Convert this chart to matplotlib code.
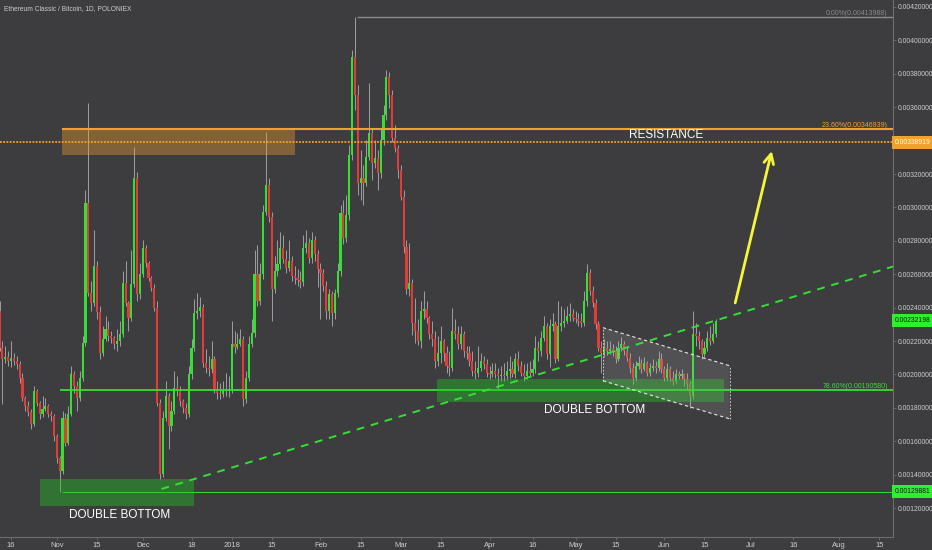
import numpy as np
import pandas as pd
import matplotlib
matplotlib.use('Agg')
import matplotlib.pyplot as plt
import matplotlib.dates as mdates
from matplotlib.patches import Rectangle, Polygon
from matplotlib.transforms import blended_transform_factory

plt.rcParams['font.family'] = ['Liberation Sans', 'DejaVu Sans']

# ETC/BTC daily candles, Poloniex, 2017-10-12 .. 2018-06-19 (prices in 1e-5 BTC)
first_open = 238.2
close_e5 = [
    216.0, 209.4, 210.6, 208.2, 210.0, 208.2, 206.4, 198.0, 186.0, 181.2,
    177.6, 170.4, 190.2, 183.0, 176.4, 179.4, 181.2, 176.4, 175.2, 163.2,
    150.0, 142.2, 174.0, 159.0, 176.4, 200.4, 193.2, 186.0, 198.0, 219.0,
    302.4, 249.0, 243.0, 265.2, 237.6, 213.0, 221.4, 227.4, 223.2, 222.0,
    218.4, 220.2, 224.4, 255.0, 243.0, 234.0, 254.4, 317.4, 248.4, 260.4,
    275.4, 267.0, 258.0, 252.0, 240.0, 183.0, 140.4, 174.0, 187.2, 169.2,
    178.2, 192.0, 190.2, 184.2, 180.0, 176.4, 200.4, 216.0, 237.0, 238.2,
    240.6, 207.0, 204.0, 203.4, 209.4, 191.4, 189.0, 188.4, 191.4, 190.2,
    191.4, 218.4, 216.6, 218.4, 221.4, 185.4, 198.0, 218.4, 225.0, 260.4,
    244.2, 260.4, 297.0, 313.2, 294.0, 251.4, 262.2, 266.4, 275.4, 269.4,
    264.0, 268.2, 259.2, 258.0, 256.8, 255.6, 275.4, 278.4, 270.0, 280.2,
    272.4, 263.4, 261.0, 253.2, 238.2, 248.4, 237.0, 249.0, 262.2, 296.4,
    281.4, 295.2, 331.2, 390.0, 367.2, 314.4, 317.4, 314.4, 330.0, 344.4,
    326.4, 329.4, 320.4, 340.2, 355.2, 378.0, 367.2, 341.4, 335.4, 322.2,
    306.0, 276.0, 251.4, 255.0, 231.0, 226.2, 220.2, 238.2, 239.4, 234.0,
    224.4, 221.4, 208.2, 213.0, 220.2, 213.0, 205.2, 204.0, 226.2, 224.4,
    218.4, 224.4, 214.2, 213.0, 208.2, 202.2, 201.0, 204.0, 208.2, 206.4,
    201.0, 200.4, 202.2, 200.4, 199.2, 199.8, 199.2, 202.2, 203.4, 200.4,
    209.4, 205.2, 201.0, 199.2, 202.2, 201.0, 203.4, 216.0, 214.2, 222.0,
    229.2, 212.4, 229.2, 230.4, 209.4, 229.2, 231.0, 232.2, 235.2, 236.4,
    234.0, 233.4, 232.2, 231.0, 244.2, 261.0, 250.2, 243.0, 230.4, 216.0,
    213.0, 216.0, 214.2, 215.4, 214.2, 209.4, 216.0, 218.4, 214.2, 210.0,
    204.0, 198.0, 205.2, 207.0, 203.4, 207.0, 201.0, 204.0, 205.2, 204.0,
    209.4, 203.4, 198.0, 203.4, 198.0, 196.2, 200.4, 199.2, 200.4, 197.4,
    194.4, 187.2, 224.4, 223.2, 220.2, 212.4, 216.0, 222.0, 220.2, 224.4,
    232.198]
high_e5 = [
    244.2, 220.2, 217.2, 214.2, 220.2, 213.0, 211.2, 208.2, 201.0, 187.2,
    184.2, 179.4, 193.2, 191.4, 184.2, 187.2, 186.0, 182.4, 178.2, 176.4,
    164.4, 151.2, 178.2, 177.0, 181.2, 205.2, 202.2, 196.2, 202.2, 223.2,
    310.2, 362.4, 256.2, 286.2, 268.2, 241.2, 229.2, 235.2, 232.2, 226.2,
    223.2, 227.4, 232.2, 262.2, 268.2, 244.2, 274.2, 336.0, 321.0, 267.0,
    280.2, 277.2, 268.2, 259.2, 254.4, 244.2, 185.4, 178.2, 196.2, 189.0,
    184.2, 202.2, 199.2, 193.2, 185.4, 183.0, 205.2, 221.4, 245.4, 249.0,
    246.6, 242.4, 215.4, 211.2, 220.2, 211.2, 196.2, 195.0, 196.2, 201.0,
    199.2, 232.2, 226.2, 225.0, 227.4, 223.2, 202.2, 223.2, 233.4, 274.2,
    277.2, 267.0, 301.2, 345.0, 317.4, 297.0, 271.2, 280.2, 285.0, 283.2,
    274.2, 280.2, 271.2, 265.2, 263.4, 262.2, 283.2, 286.2, 281.4, 285.0,
    282.6, 274.2, 267.0, 263.4, 256.2, 251.4, 250.2, 251.4, 267.0, 301.2,
    304.2, 307.2, 337.2, 394.2, 413.988, 373.2, 334.2, 325.2, 340.2, 374.4,
    347.4, 340.2, 334.2, 347.4, 361.2, 382.2, 381.0, 370.2, 349.2, 337.2,
    325.2, 310.2, 280.2, 278.4, 257.4, 246.0, 233.4, 244.2, 250.2, 244.2,
    235.2, 232.2, 226.2, 223.2, 229.2, 221.4, 217.2, 214.2, 240.0, 233.4,
    229.2, 229.2, 226.2, 217.2, 217.2, 214.2, 208.2, 217.2, 213.0, 211.2,
    209.4, 205.2, 207.0, 207.0, 204.0, 205.2, 207.0, 208.2, 211.2, 208.2,
    213.0, 214.2, 208.2, 206.4, 207.0, 208.2, 209.4, 223.2, 220.2, 226.2,
    235.2, 231.0, 233.4, 237.0, 232.2, 244.2, 241.2, 239.4, 241.2, 243.0,
    239.4, 238.2, 237.0, 237.0, 250.2, 266.4, 263.4, 253.2, 245.4, 232.2,
    220.2, 221.4, 220.2, 220.2, 218.4, 217.2, 220.2, 222.6, 220.2, 217.2,
    213.0, 207.0, 208.2, 211.2, 209.4, 210.6, 208.2, 207.0, 209.4, 208.2,
    214.2, 213.0, 205.2, 207.0, 205.2, 202.2, 203.4, 202.2, 203.4, 201.0,
    201.0, 196.2, 238.2, 231.0, 226.2, 221.4, 220.2, 226.2, 229.2, 231.0,
    233.4]
low_e5 = [
    214.2, 182.4, 207.0, 205.2, 204.6, 205.8, 203.4, 195.0, 184.2, 178.2,
    175.2, 167.4, 169.2, 181.2, 173.4, 174.6, 178.2, 174.6, 172.2, 160.2,
    147.0, 129.881, 140.4, 157.2, 157.8, 175.2, 189.0, 178.2, 184.2, 196.2,
    217.2, 247.2, 238.2, 241.2, 233.4, 209.4, 211.2, 220.2, 220.2, 219.0,
    215.4, 214.2, 217.2, 222.6, 241.2, 226.2, 232.2, 252.6, 244.2, 245.4,
    258.6, 264.6, 256.2, 250.2, 238.2, 181.2, 137.4, 138.6, 172.2, 155.4,
    166.2, 176.4, 187.2, 181.2, 177.0, 173.4, 174.6, 197.4, 214.2, 233.4,
    234.6, 204.6, 201.0, 199.2, 201.0, 189.0, 185.4, 185.4, 186.6, 187.2,
    186.6, 189.0, 213.0, 215.4, 217.2, 181.2, 183.0, 196.2, 216.6, 222.6,
    241.2, 241.8, 257.4, 295.2, 291.0, 232.2, 249.0, 259.2, 263.4, 267.0,
    261.0, 262.2, 256.2, 254.4, 253.2, 252.0, 253.2, 273.0, 267.0, 267.0,
    268.2, 252.6, 233.4, 250.2, 233.4, 233.4, 229.2, 233.4, 246.6, 259.2,
    277.8, 279.0, 292.2, 328.2, 358.2, 307.2, 304.2, 301.2, 312.6, 328.2,
    316.2, 323.4, 310.2, 317.4, 337.2, 352.2, 359.4, 339.0, 333.0, 317.4,
    304.2, 273.0, 248.4, 247.2, 223.8, 219.0, 217.8, 216.0, 233.4, 231.0,
    221.4, 217.2, 204.0, 205.2, 207.0, 208.2, 201.0, 199.2, 202.2, 221.4,
    215.4, 215.4, 210.6, 209.4, 205.2, 199.2, 197.4, 198.6, 202.2, 203.4,
    198.6, 197.4, 198.6, 198.0, 191.4, 196.2, 196.2, 197.4, 198.0, 198.6,
    198.0, 202.2, 199.2, 196.2, 197.4, 199.2, 199.2, 201.0, 208.2, 211.2,
    220.2, 209.4, 204.6, 226.2, 207.0, 208.2, 226.2, 228.6, 231.0, 232.2,
    232.2, 231.0, 229.2, 228.6, 229.2, 241.2, 247.8, 240.6, 227.4, 214.2,
    201.0, 210.6, 211.8, 212.4, 211.2, 207.0, 208.2, 214.2, 211.8, 208.2,
    201.0, 194.4, 196.2, 203.4, 201.0, 202.2, 199.2, 199.2, 202.2, 201.0,
    202.2, 201.0, 196.2, 196.2, 196.2, 193.8, 195.0, 197.4, 197.4, 193.2,
    191.4, 180.0, 185.4, 217.2, 215.4, 209.4, 210.6, 214.2, 217.8, 219.0,
    222.6]

first_day = '2017-10-12'
last_day = '2018-06-19'

# price levels drawn on the chart
fib_0 = 0.00413988
fib_236 = 0.00346939
fib_786 = 0.00190580
resistance = 0.00338919
support = 0.00129881
last_price = 0.00232198

# 0.0034 is hidden behind the resistance price tag in the original
price_ticks = [0.0012, 0.0014, 0.0016, 0.0018, 0.0020, 0.0022, 0.0024, 0.0026,
               0.0028, 0.0030, 0.0032, 0.0036, 0.0038, 0.0040, 0.0042]
tick_days = ['2017-10-16', '2017-11-01', '2017-11-15', '2017-12-01', '2017-12-18',
             '2018-01-01', '2018-01-15', '2018-02-01', '2018-02-15', '2018-03-01',
             '2018-03-15', '2018-04-01', '2018-04-16', '2018-05-01', '2018-05-15',
             '2018-06-01', '2018-06-15', '2018-07-01', '2018-07-16', '2018-08-01',
             '2018-08-15']
tick_text = ['16', 'Nov', '15', 'Dec', '18', '2018', '15', 'Feb', '15', 'Mar', '15',
             'Apr', '16', 'May', '15', 'Jun', '15', 'Jul', '16', 'Aug', '15']

# drawing tools (date, price)
res_box = ('2017-11-02 16:00', '2018-01-23 00:00', 0.003312, 0.003468)
left_box = ('2017-10-26 02:00', '2017-12-19 00:00', 0.001212, 0.001374)
mid_box = ('2018-03-13 12:00', '2018-06-21 16:00', 0.001836, 0.001974)
trend_start = ('2017-12-07 12:00', 0.001314)
trend_end = ('2018-08-19 19:00', 0.002646)
chan_x = ('2018-05-10 14:00', '2018-06-23 19:00')
chan_upper = (0.002280, 0.002052)
chan_lower = (0.001962, 0.001734)
arrow_from = ('2018-06-25 12:00', 0.002412)
arrow_to = ('2018-07-08 17:00', 0.003354)
fib_line_start = '2017-11-02 16:00'
top_line_start = '2018-02-13 16:00'

view_x = ('2017-10-12 04:00', '2018-08-19 19:00')
view_y = (0.0010264, 0.0042419)


def dn(s):
    return mdates.date2num(pd.Timestamp(s))


BG = '#3d3d3f'
TXT = '#cccccc'
GREEN = '#33e033'
RED = '#e23b3b'
ORANGE = '#f2a12f'

days = pd.date_range(first_day, last_day, freq='D')
x = mdates.date2num(days)
c = np.array(close_e5) * 1e-5
h = np.array(high_e5) * 1e-5
l = np.array(low_e5) * 1e-5
o = np.r_[first_open * 1e-5, c[:-1]]
h = np.maximum(h, np.maximum(o, c))
l = np.minimum(l, np.minimum(o, c))

fig = plt.figure(figsize=(9.32, 5.5), dpi=100, facecolor=BG)
ax = fig.add_axes([0, 0.0236, 893 / 932, 0.9764])
ax.set_facecolor(BG)

# candles
ax.vlines(x, l, h, color='#a0a0a0', lw=0.7, zorder=2)
up = c >= o
body = np.maximum(np.abs(c - o), 0.4e-5)
ax.bar(x[up], body[up], bottom=np.minimum(o, c)[up], width=0.75, color=GREEN, lw=0, zorder=3)
ax.bar(x[~up], body[~up], bottom=np.minimum(o, c)[~up], width=0.75, color=RED, lw=0, zorder=3)

xmax = dn(view_x[1])
# fib / level lines
ax.hlines(fib_0, dn(top_line_start), xmax, color='#8a8a8a', lw=1, zorder=4)
ax.hlines(fib_236, dn(fib_line_start), xmax, color=ORANGE, lw=1.5, zorder=4)
ax.hlines(resistance, dn(view_x[0]), xmax, color=ORANGE, lw=1.3, ls=(0, (1.0, 0.8)), zorder=4)
ax.hlines(fib_786, dn(fib_line_start) - 0.7, xmax, color=GREEN, lw=1.3, zorder=4)
ax.hlines(support, dn(fib_line_start), xmax, color=GREEN, lw=0.7, zorder=4)

# boxes
ax.add_patch(Rectangle((dn(res_box[0]), res_box[2]), dn(res_box[1]) - dn(res_box[0]),
                       res_box[3] - res_box[2], fc=ORANGE, alpha=0.38, lw=0, zorder=5))
for b in (left_box, mid_box):
    ax.add_patch(Rectangle((dn(b[0]), b[2]), dn(b[1]) - dn(b[0]), b[3] - b[2],
                           fc='#22c022', alpha=0.42, lw=0, zorder=5))

# rising trendline
ax.plot([dn(trend_start[0]), dn(trend_end[0])], [trend_start[1], trend_end[1]],
        color=GREEN, lw=1.4, ls=(0, (4, 3.5)), zorder=6)

# falling channel
cx0, cx1 = dn(chan_x[0]), dn(chan_x[1])
ax.add_patch(Polygon([(cx0, chan_upper[0]), (cx1, chan_upper[1]), (cx1, chan_lower[1]),
                      (cx0, chan_lower[0])], closed=True, fc='#bdbdbd', alpha=0.16, lw=0, zorder=5))
for a, b in ((chan_upper[0], chan_upper[1]), (chan_lower[0], chan_lower[1])):
    ax.plot([cx0, cx1], [a, b], color='#e6e6e6', lw=0.8, ls=(0, (3, 2.5)), zorder=6)
ax.plot([cx0, cx0], [chan_lower[0], chan_upper[0]], color='#e6e6e6', lw=0.6, ls=(0, (2, 2)), zorder=6)
ax.plot([cx1, cx1], [chan_lower[1], chan_upper[1]], color='#e6e6e6', lw=0.6, ls=(0, (2, 2)), zorder=6)

# arrow
ax.annotate('', xy=(dn(arrow_to[0]), arrow_to[1]), xytext=(dn(arrow_from[0]), arrow_from[1]),
            arrowprops=dict(arrowstyle='->,head_width=0.35,head_length=0.7', color='#f5f53a', lw=2),
            zorder=7)

# texts
ax.text(dn('2018-06-01 12:00'), 0.003432, 'RESISTANCE', color='white', fontsize=8.5,
        ha='center', va='center', zorder=8)
ax.text(dn('2017-11-22 22:00'), 0.001158, 'DOUBLE BOTTOM', color='white', fontsize=8.5,
        ha='center', va='center', zorder=8)
ax.text(dn('2018-05-07 12:00'), 0.001788, 'DOUBLE BOTTOM', color='white', fontsize=8.5,
        ha='center', va='center', zorder=8)

btr = blended_transform_factory(ax.transAxes, ax.transData)
ax.text(0.994, fib_0, '0.00%(0.00413988)', transform=btr, color='#8a8a8a', fontsize=5,
        ha='right', va='bottom', zorder=8)
ax.text(0.994, fib_236, '23.60%(0.00346939)', transform=btr, color=ORANGE, fontsize=5,
        ha='right', va='bottom', zorder=8)
ax.text(0.994, fib_786, '78.60%(0.00190580)', transform=btr, color=GREEN, fontsize=5,
        ha='right', va='bottom', zorder=8)

# axis price tags
for val, fc, col in ((resistance, ORANGE, 'white'), (last_price, '#2bf02b', '#1a1a1a'),
                     (support, '#2bf02b', '#1a1a1a')):
    ax.text(1.0025, val, '%.8f' % val, transform=btr, fontsize=4.9, color=col, ha='left',
            va='center', clip_on=False, zorder=10,
            bbox=dict(boxstyle='square,pad=0.42', fc=fc, ec='none'))

ax.set_xlim(dn(view_x[0]), xmax)
ax.set_ylim(*view_y)
ax.set_xticks([dn(d) for d in tick_days])
ax.set_xticklabels(tick_text)
ax.set_yticks(price_ticks)
ax.set_yticklabels(['%.8f' % p for p in price_ticks])
ax.yaxis.tick_right()
ax.tick_params(axis='y', colors='#6e6e6e', labelcolor=TXT, labelsize=4.9, length=2.2, width=0.6, pad=1.2)
ax.tick_params(axis='x', colors='#6e6e6e', labelcolor=TXT, labelsize=5.5, length=2.5, width=0.6, pad=0.8)
for s in ('top', 'left'):
    ax.spines[s].set_visible(False)
for s in ('bottom', 'right'):
    ax.spines[s].set_color('#6e6e6e')
    ax.spines[s].set_linewidth(0.8)

fig.text(0.004, 0.991, 'Ethereum Classic / Bitcoin, 1D, POLONIEX', color=TXT, fontsize=4.8,
         ha='left', va='top')

fig.savefig('out.png', dpi=100, facecolor=BG)
